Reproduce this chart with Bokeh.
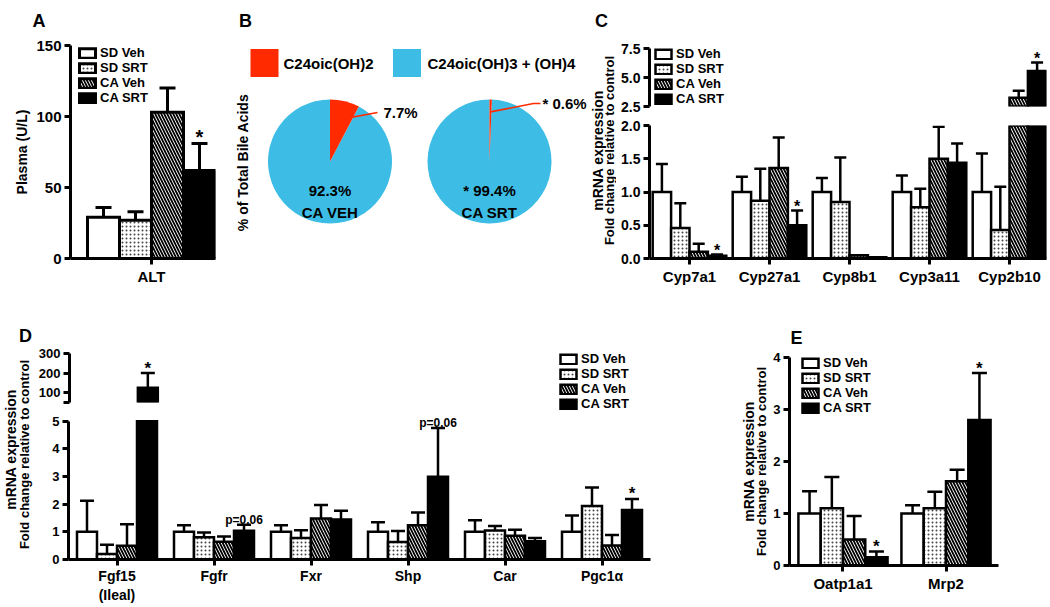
import math
from bokeh.plotting import figure
from bokeh.models import (Range1d, FixedTicker, Whisker, TeeHead, ColumnDataSource,
                          Legend, LegendItem, NumeralTickFormatter)
from bokeh.layouts import row, column
from bokeh.embed import file_html
from bokeh.resources import INLINE
from bokeh.core.properties import value

FONT = "Liberation Sans"
NAN = float("nan")

# ---------------- data ----------------
GROUPS = ["SD Veh", "SD SRT", "CA Veh", "CA SRT"]

# Panel A (plasma ALT, U/L)
A_CATS = ["ALT"]
A_MEAN = [[29], [27], [103], [62]]
A_SEM = [[7], [6], [17], [19]]
A_MARK = ["*"]

# Panel B (% of total bile acids)
B_SERIES = ["C24oic(OH)2", "C24oic(OH)3 + (OH)4"]
B_GROUPS = ["CA VEH", "CA SRT"]
B_PCT_OH2 = [7.7, 0.6]
B_PCT_OH34 = [92.3, 99.4]
B_SIG = ["", "* "]

# Panel C (fold change)
C_GENES = ["Cyp7a1", "Cyp27a1", "Cyp8b1", "Cyp3a11", "Cyp2b10"]
C_MEAN = [
    [1.00, 1.00, 1.00, 1.00, 1.00],
    [0.46, 0.87, 0.85, 0.77, 0.43],
    [0.10, 1.36, 0.05, 1.50, 3.25],
    [0.04, 0.50, 0.02, 1.44, 5.55],
]
C_SEM = [
    [0.42, 0.23, 0.21, 0.25, 0.58],
    [0.37, 0.48, 0.67, 0.28, 0.65],
    [0.12, 0.46, 0.00, 0.48, 0.60],
    [0.02, 0.22, 0.00, 0.29, 0.75],
]
C_MARK = ["*", "*", "", "", "*"]

# Panel D
D_GENES = ["Fgf15\n(Ileal)", "Fgfr", "Fxr", "Shp", "Car", "Pgc1\u03b1"]
D_MEAN = [
    [1.00, 1.00, 1.00, 1.00, 1.00, 1.00],
    [0.20, 0.80, 0.78, 0.63, 1.05, 1.93],
    [0.50, 0.64, 1.48, 1.24, 0.86, 0.51],
    [125.0, 1.04, 1.45, 2.99, 0.66, 1.79],
]
D_SEM = [
    [1.12, 0.24, 0.24, 0.35, 0.42, 0.59],
    [0.33, 0.18, 0.28, 0.40, 0.16, 0.67],
    [0.77, 0.19, 0.49, 0.46, 0.22, 0.38],
    [75.0, 0.22, 0.31, 1.76, 0.12, 0.40],
]
D_MARK = ["*", "p=0.06", "", "p=0.06", "", "*"]

# Panel E
E_GENES = ["Oatp1a1", "Mrp2"]
E_MEAN = [[1.00, 1.00], [1.10, 1.10], [0.50, 1.62], [0.16, 2.80]]
E_SEM = [[0.43, 0.16], [0.60, 0.32], [0.45, 0.22], [0.11, 0.90]]
E_MARK = ["*", "*"]

# ---------------- styles ----------------
RED = "#ff2a00"
BLUE = "#3dbde5"
BAR_STYLE = [
    dict(fill_color="white"),
    dict(fill_color="white", hatch_pattern="dot", hatch_scale=4, hatch_weight=1.6, hatch_color="#444444"),
    dict(fill_color="white", hatch_pattern="left_diagonal_line", hatch_scale=6, hatch_weight=1.8, hatch_color="black"),
    dict(fill_color="black"),
]


def base_fig(w, h, xr, yr, left=0, right=0, top=0, bottom=0, xaxis=True, yaxis=True):
    p = figure(width=w, height=h, x_range=Range1d(*xr), y_range=Range1d(*yr),
               output_backend="svg", toolbar_location=None, title=None,
               x_axis_type="linear" if xaxis else None,
               y_axis_type="linear" if yaxis else None,
               min_border_left=left, min_border_right=right,
               min_border_top=top, min_border_bottom=bottom)
    p.outline_line_color = None
    for g in p.grid:
        g.visible = False
    p.background_fill_color = "white"
    p.border_fill_color = "white"
    return p


def style_axis(ax, size):
    ax.axis_line_width = 3
    ax.axis_line_color = "black"
    ax.major_tick_line_width = 3
    ax.major_tick_line_color = "black"
    ax.major_tick_out = 6
    ax.major_tick_in = 0
    ax.minor_tick_line_color = None
    ax.major_label_text_font = FONT
    ax.major_label_text_font_style = "bold"
    ax.major_label_text_font_size = size
    ax.major_label_text_color = "black"
    ax.major_label_standoff = 3


def txt(p, x, y, s, size, align="center", baseline="middle", angle=0.0, color="black", y_offset=0):
    p.text(x=[x], y=[y], text=[s], text_font=value(FONT), text_font_size=size,
           text_font_style="bold", text_align=align, text_baseline=baseline,
           angle=angle, text_color=color, y_offset=y_offset)


def bar_panel(p, means, sems, marks, width, lw, head, y_lo, y_hi, star_size, star_dy, mark_size="12px"):
    n = len(means[0])
    bottom = 0 if y_lo == 0 else y_lo - (y_hi - y_lo)
    for g in range(4):
        off = (g - 1.5) * width
        xs = [i + off for i in range(n) if means[g][i] > y_lo]
        tops = [min(means[g][i], y_hi) for i in range(n) if means[g][i] > y_lo]
        if xs:
            p.vbar(x=xs, top=tops, bottom=bottom, width=width, line_color="black",
                   line_width=lw, line_join="miter", **BAR_STYLE[g])
        bx, lo, up = [], [], []
        for i in range(n):
            m, s = means[g][i], sems[g][i]
            if y_lo < m < y_hi and s > 0:
                bx.append(i + off); lo.append(m); up.append(m + s)
        if bx:
            p.add_layout(Whisker(source=ColumnDataSource(dict(base=bx, lower=lo, upper=up)),
                                 base="base", lower="lower", upper="upper",
                                 line_color="black", line_width=lw,
                                 upper_head=TeeHead(size=head, line_color="black", line_width=lw),
                                 lower_head=None))
    for i, mk in enumerate(marks):
        m, s = means[3][i], sems[3][i]
        if mk and y_lo < m < y_hi:
            x = i + 1.5 * width
            if mk == "*":
                txt(p, x, m + s, mk, star_size, baseline="alphabetic", y_offset=star_dy)
            else:
                txt(p, x, m + s, mk, mark_size, baseline="alphabetic", y_offset=-5)


def add_legend(p, vx, vy, lw=2.5, size="13px"):
    rs = [p.vbar(x=[NAN], top=[NAN], bottom=0, width=1, line_color="black", line_width=lw,
                 line_join="miter", **BAR_STYLE[g]) for g in range(4)]
    lg = Legend(items=[LegendItem(label=GROUPS[g], renderers=[rs[g]]) for g in range(4)],
                location=(vx, vy), glyph_width=20, glyph_height=12, label_height=15,
                spacing=0, padding=0, margin=0, label_standoff=3,
                label_text_font=FONT, label_text_font_size=size, label_text_font_style="bold",
                label_text_color="black",
                background_fill_alpha=0, border_line_alpha=0)
    p.add_layout(lg)


def cat_axis(p, names, size, standoff=3):
    ax = p.xaxis[0]
    style_axis(ax, size)
    ax.major_label_standoff = standoff
    ax.ticker = FixedTicker(ticks=list(range(len(names))))
    ax.major_label_overrides = {i: nm for i, nm in enumerate(names)}


def y_axis(p, ticks, size, bounds=None, fmt=None, overrides=None):
    ax = p.yaxis[0]
    style_axis(ax, size)
    ax.ticker = FixedTicker(ticks=ticks)
    if bounds is not None:
        ax.bounds = bounds
    if fmt:
        ax.formatter = NumeralTickFormatter(format=fmt)
    if overrides:
        ax.major_label_overrides = overrides


# ================= TOP ROW (height 300) =================
# ---- A ----
AL_H = 36
a_letter = base_fig(232, AL_H, (0, 232), (0, AL_H), xaxis=False, yaxis=False)
txt(a_letter, 38.5, AL_H - 20, "A", "18px", baseline="alphabetic")

A_W, A_H, A_L, A_R, A_T, A_B = 232, 300 - AL_H, 70, 17, 45 - AL_H, 42
a_unit = 32.0
a_fw = A_W - A_L - A_R
a_x0 = -81 / a_unit
a_fig = base_fig(A_W, A_H, (a_x0, a_x0 + a_fw / a_unit), (0, 150), A_L, A_R, A_T, A_B)
bar_panel(a_fig, A_MEAN, A_SEM, A_MARK, 1.0, 3, 16, 0, 150, "20px", -6)
cat_axis(a_fig, A_CATS, "15px")
y_axis(a_fig, [0, 50, 100, 150], "15px")
a_fig.yaxis[0].axis_label = "Plasma (U/L)"
a_fig.yaxis[0].axis_label_text_font = FONT
a_fig.yaxis[0].axis_label_text_font_style = "bold"
a_fig.yaxis[0].axis_label_text_font_size = "14px"
a_fig.yaxis[0].axis_label_text_color = "black"
a_fig.yaxis[0].axis_label_standoff = 3
add_legend(a_fig, 7, (A_H - A_T - A_B) - 60, lw=3)

# ---- B ----
b = base_fig(356, 300, (0, 356), (0, 300), xaxis=False, yaxis=False)
txt(b, 13, 280, "B", "18px", baseline="alphabetic")
txt(b, 10, 138, "% of Total Bile Acids", "14px", angle=math.pi / 2)
b.rect(x=[32, 174.5], y=[237.5, 237.5], width=28, height=28, fill_color=[RED, BLUE], line_color=None)
txt(b, 51, 237.5, B_SERIES[0], "15px", align="left")
txt(b, 195, 237.5, B_SERIES[1], "15px", align="left")
R = 62
PIE_C = [(97.5, 139), (257, 139)]
ELBOW = [(47.5, 49), (44, 58)]
TAIL = [0, 7]
LBL_GAP = [6, 2]
IN_R = [0.7, 0.8]
for k in range(2):
    cx, cy = PIE_C[k]
    f = B_PCT_OH2[k] / 100.0
    a = math.pi / 2 - 2 * math.pi * f
    b.wedge(x=[cx], y=[cy], radius=R, start_angle=math.pi / 2, end_angle=a,
            direction="anticlock", fill_color=BLUE, line_color=None)
    b.wedge(x=[cx], y=[cy], radius=R, start_angle=a, end_angle=math.pi / 2,
            direction="anticlock", fill_color=RED, line_color=None)
    mid = math.pi / 2 - math.pi * f
    x0 = cx + IN_R[k] * R * math.cos(mid)
    y0 = cy + IN_R[k] * R * math.sin(mid)
    ex, ey = cx + ELBOW[k][0], cy + ELBOW[k][1]
    b.line(x=[x0, ex, ex + TAIL[k]], y=[y0, ey, ey], line_color=RED, line_width=1.6)
    txt(b, ex + TAIL[k] + LBL_GAP[k], ey, f"{B_SIG[k]}{B_PCT_OH2[k]}%", "15px", align="left")
    txt(b, cx, cy - 29, f"{B_SIG[k]}{B_PCT_OH34[k]}%", "15px")
    txt(b, cx, cy - 51, B_GROUPS[k], "15px")

# ---- C label ----
c_lab = base_fig(28, 300, (0, 28), (0, 300), xaxis=False, yaxis=False)
txt(c_lab, 13, 280, "C", "18px", baseline="alphabetic")
txt(c_lab, 9.5, 150, "mRNA expression", "14px", angle=math.pi / 2)
txt(c_lab, 21, 150, "Fold change relative to control", "13px", angle=math.pi / 2)

# ---- C bars (broken axis) ----
C_W, C_L, C_R = 432, 33, 2
c_fw = C_W - C_L - C_R
c_unit = 80.0
c_xr = (-0.5, -0.5 + c_fw / c_unit)
c_bw = 0.23
CU_H, CU_T, CU_B = 114, 40, 8
cu_fh = CU_H - CU_T - CU_B
cu_px = 58 / 5.0
c_up = base_fig(C_W, CU_H, c_xr, (2.5, 2.5 + cu_fh / cu_px), C_L, C_R, CU_T, CU_B, xaxis=False)
bar_panel(c_up, C_MEAN, C_SEM, C_MARK, c_bw, 2.5, 12, 2.5, 7.5, "16px", -4)
y_axis(c_up, [2.5, 5.0, 7.5], "14px", bounds=(2.5, 7.5), fmt="0.0")
add_legend(c_up, 4, 0)
CL_H, CL_T, CL_B = 186, 11, 42
c_low = base_fig(C_W, CL_H, c_xr, (0, 2.0), C_L, C_R, CL_T, CL_B)
bar_panel(c_low, C_MEAN, C_SEM, C_MARK, c_bw, 2.5, 12, 0, 2.0, "16px", -4)
y_axis(c_low, [0, 0.5, 1.0, 1.5, 2.0], "14px", fmt="0.0")
cat_axis(c_low, C_GENES, "15px")

top = row(column(column(a_letter), column(a_fig)), column(b), column(c_lab), column(c_up, c_low))

# ================= BOTTOM ROW (height 305) =================
d_lab = base_fig(35, 305, (0, 35), (0, 305), xaxis=False, yaxis=False)
txt(d_lab, 25, 270, "D", "18px", baseline="alphabetic")
txt(d_lab, 10, 156, "mRNA expression", "14px", angle=math.pi / 2)
txt(d_lab, 24, 151, "Fold change relative to control", "13px", angle=math.pi / 2)

D_L = 33
d_unit = 97.0
d_bw = 20 / d_unit
DU_W, DU_H, DU_T, DU_B = 510, 112, 53, 10
d_up = base_fig(DU_W, DU_H, (-0.5, -0.5 + (DU_W - D_L) / d_unit), (50, 300), D_L, 0, DU_T, DU_B, xaxis=False)
bar_panel(d_up, D_MEAN, D_SEM, D_MARK, d_bw, 2.5, 14, 50, 300, "17px", -5)
y_axis(d_up, [50, 100, 200, 300], "13px", overrides={50: ""})
d_leg = base_fig(195, 112, (0, 195), (0, 112), xaxis=False, yaxis=False)
add_legend(d_leg, 13, 1)
DL_W, DL_H, DL_T, DL_B, DL_R = 705, 193, 0, 41, 90
dl_fw = DL_W - D_L - DL_R
dl_fh = DL_H - DL_T - DL_B
d_low = base_fig(DL_W, DL_H, (-0.5, -0.5 + dl_fw / d_unit), (0, dl_fh / 28.6), D_L, DL_R, DL_T, DL_B)
bar_panel(d_low, D_MEAN, D_SEM, D_MARK, d_bw, 2.5, 14, 0, 5.0, "17px", -5)
y_axis(d_low, [0, 1, 2, 3, 4, 5], "13px", bounds=(0, 5))
cat_axis(d_low, D_GENES, "14px", standoff=2)

# ---- E ----
e_lab = base_fig(30, 305, (0, 30), (0, 305), xaxis=False, yaxis=False)
txt(e_lab, 8, 144, "mRNA expression", "14px", angle=math.pi / 2)
txt(e_lab, 20.5, 144, "Fold change relative to control", "13px", angle=math.pi / 2)

E_W, E_H, E_L, E_R, E_T, E_B = 278, 305, 17, 50, 0, 40
e_fw = E_W - E_L - E_R
e_fh = E_H - E_T - E_B
e_unit = 104.0
e_x0 = -54 / e_unit
e_fig = base_fig(E_W, E_H, (e_x0, e_x0 + e_fw / e_unit), (0, e_fh / 52.0), E_L, E_R, E_T, E_B)
bar_panel(e_fig, E_MEAN, E_SEM, E_MARK, 22.5 / e_unit, 2.5, 15, 0, 4.0, "17px", -5)
y_axis(e_fig, [0, 1, 2, 3, 4], "13px", bounds=(0, 4))
cat_axis(e_fig, E_GENES, "15px")
txt(e_fig, e_x0 + 7 / e_unit, (565 - 337) / 52.0, "E", "18px", baseline="alphabetic")
add_legend(e_fig, 11, 150)

bottom = row(column(d_lab), column(row(column(d_up), column(d_leg)), d_low), column(e_lab), column(e_fig))

page = column(top, bottom)
open("out.html", "w").write(file_html(page, INLINE))
